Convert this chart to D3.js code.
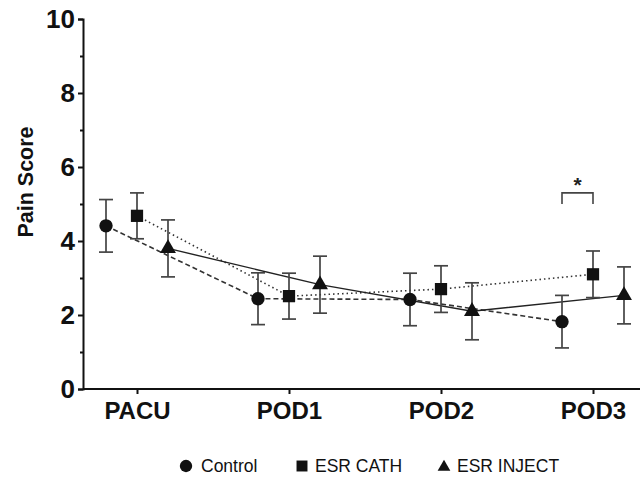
<!DOCTYPE html>
<html>
<head>
<meta charset="utf-8">
<script src="https://cdn.jsdelivr.net/npm/d3@7"></script>
<style>
  body { margin: 0; background: #fff; }
  svg { font-family: "Liberation Sans", Arial, sans-serif; }
</style>
</head>
<body>
<svg></svg>
<script>
// time points on the x axis
let categories = ['PACU', 'POD1', 'POD2', 'POD3']

// mean pain scores
let controlMean = [4.41, 2.44, 2.42, 1.82]
let cathMean = [4.68, 2.51, 2.70, 3.10]
let injectMean = [3.80, 2.82, 2.10, 2.53]

// error bar half widths
let controlErr = [0.71, 0.70, 0.71, 0.71]
let cathErr = [0.62, 0.62, 0.63, 0.63]
let injectErr = [0.77, 0.77, 0.77, 0.77]

let yTicks = [0, 2, 4, 6, 8, 10]
let yMinorTicks = [1, 3, 5, 7, 9]

let width = 644
let height = 478

let svg = d3.select('svg')
svg.attr('width', width).attr('height', height)

// scales
let xScale = d3.scalePoint()
              .domain(categories)
              .range([137, 593])

let yScale = d3.scaleLinear()
              .domain([0, 10])
              .range([389, 19])

// each group is shifted a bit from the category tick
let series = [
    {name: 'Control', mean: controlMean, err: controlErr, offset: -31, shape: d3.symbolCircle, dash: '5,3', size: 140, legendSize: 120},
    {name: 'ESR CATH', mean: cathMean, err: cathErr, offset: 0, shape: d3.symbolSquare, dash: '1.5,3', size: 150, legendSize: 120},
    {name: 'ESR INJECT', mean: injectMean, err: injectErr, offset: 31, shape: d3.symbolTriangle, dash: null, size: 110, legendSize: 70}
]

let xPos = (s, i) => xScale(categories[i]) + s.offset

// lines first so markers sit on top
series.forEach((s) => {
    let line = d3.line()
                .x((d, i) => xPos(s, i))
                .y((d) => yScale(d))
    svg.append('path')
        .datum(s.mean)
        .attr('d', line)
        .attr('fill', 'none')
        .attr('stroke', s.dash ? '#333' : '#222')
        .attr('stroke-width', s.dash ? 1.6 : 1.4)
        .attr('stroke-dasharray', s.dash)
})

// error bars
series.forEach((s) => {
    let g = svg.append('g')
    s.mean.forEach((m, i) => {
        let x = xPos(s, i)
        let top = yScale(m + s.err[i])
        let bot = yScale(m - s.err[i])
        g.append('line').attr('x1', x).attr('x2', x).attr('y1', top).attr('y2', bot)
        g.append('line').attr('x1', x - 7).attr('x2', x + 7).attr('y1', top).attr('y2', top)
        g.append('line').attr('x1', x - 7).attr('x2', x + 7).attr('y1', bot).attr('y2', bot)
    })
    g.selectAll('line')
        .attr('stroke', '#444')
        .attr('stroke-width', 1.7)
})

// markers
series.forEach((s) => {
    svg.append('g')
        .selectAll('path')
        .data(s.mean)
        .enter()
        .append('path')
        .attr('d', d3.symbol().type(s.shape).size(s.size))
        .attr('transform', (d, i) => 'translate(' + xPos(s, i) + ',' + yScale(d) + ')')
        .attr('fill', '#111')
})

// significance bracket at POD3 between Control and ESR CATH
let bx1 = xPos(series[0], 3)
let bx2 = xPos(series[1], 3)
let by = yScale(5.3)
svg.append('path')
    .attr('d', 'M' + bx1 + ',' + (by + 11) + 'V' + by + 'H' + bx2 + 'V' + (by + 11))
    .attr('fill', 'none')
    .attr('stroke', '#444')
    .attr('stroke-width', 1.6)
svg.append('text')
    .attr('x', (bx1 + bx2) / 2)
    .attr('y', by - 1)
    .attr('text-anchor', 'middle')
    .attr('font-size', 21)
    .attr('font-weight', 'bold')
    .attr('fill', '#222')
    .text('*')

// axes
let xAxis = d3.axisBottom(xScale).tickSizeOuter(0).tickSize(5).tickPadding(8)
let gx = svg.append('g')
    .attr('transform', 'translate(0,' + yScale(0) + ')')
    .call(xAxis)
gx.select('.domain').attr('d', 'M83,0H640')
gx.selectAll('text')
    .attr('font-size', 24)
    .attr('font-weight', 'bold')
    .attr('fill', '#111')
    .attr('font-family', '"Liberation Sans", Arial, sans-serif')

let yAxis = d3.axisLeft(yScale).tickValues(yTicks).tickSizeOuter(0).tickSize(5).tickPadding(3)
let gy = svg.append('g')
    .attr('transform', 'translate(83,0)')
    .call(yAxis)
gy.selectAll('text')
    .attr('font-size', 26)
    .attr('font-weight', 'bold')
    .attr('fill', '#111')
    .attr('font-family', '"Liberation Sans", Arial, sans-serif')

let yMinor = d3.axisLeft(yScale).tickValues(yMinorTicks).tickSizeOuter(0).tickSize(3).tickFormat('')
svg.append('g')
    .attr('transform', 'translate(83,0)')
    .call(yMinor)
    .select('.domain').remove()

svg.selectAll('.domain, .tick line')
    .attr('stroke', '#111')
    .attr('stroke-width', 2)

svg.append('text')
    .attr('transform', 'rotate(-90)')
    .attr('x', -182)
    .attr('y', 33)
    .attr('text-anchor', 'middle')
    .attr('font-size', 21.5)
    .attr('font-weight', 'bold')
    .attr('fill', '#111')
    .text('Pain Score')

// legend
let legendX = [186, 302, 444]
let legendGap = [15, 13, 13]
let legend = svg.append('g')
series.forEach((s, i) => {
    legend.append('path')
        .attr('d', d3.symbol().type(s.shape).size(s.legendSize))
        .attr('transform', 'translate(' + legendX[i] + ',' + (i == 2 ? 467 : 466) + ')')
        .attr('fill', '#111')
    legend.append('text')
        .attr('x', legendX[i] + legendGap[i])
        .attr('y', 472)
        .attr('font-size', 17.5)
        .attr('fill', '#111')
        .text(s.name)
})
</script>
</body>
</html>
